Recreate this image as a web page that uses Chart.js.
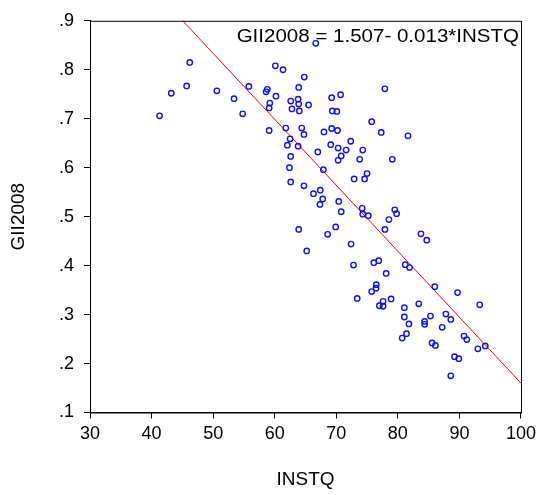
<!DOCTYPE html>
<html>
<head>
<meta charset="utf-8">
<script src="https://cdn.jsdelivr.net/npm/chart.js@4/dist/chart.umd.min.js"></script>
<style>
  html, body { margin: 0; padding: 0; background: #fff; }
  #wrap { width: 541px; height: 495px; }
</style>
</head>
<body>
<div id="wrap"><canvas id="scatter" width="541" height="495"></canvas></div>
<script>
// INSTQ (x) and GII2008 (y)
const instq = [
  46.2, 45.7, 43.2, 50.6, 41.3,
  66.66, 60.1, 61.35, 64.8, 55.8, 58.6, 58.8, 63.9, 70.7, 69.25,
  53.4, 60.2, 59.2, 59.1, 62.6, 63.8, 63.9, 65.5, 62.8, 64.0,
  69.35, 70.1, 54.8, 75.75, 59.1, 61.8, 64.4, 69.25, 70.2, 62.5,
  64.75, 68.0, 62.05, 63.8, 69.1, 72.35, 70.3, 71.6, 74.3, 62.6,
  67.0, 70.8, 70.3, 73.8, 62.4, 67.9, 75.0, 74.6, 72.9, 62.6,
  64.75, 66.3, 67.4, 67.8, 67.35, 70.4, 70.8, 74.2, 74.3, 75.2,
  63.9, 68.6, 69.9, 72.4, 65.2, 72.8, 76.1, 76.5, 76.45, 75.75, 73.4,
  77.9, 77.3, 81.65, 79.1, 79.5, 79.8,
  78.55, 77.9, 83.75, 84.7, 76.9, 81.2, 81.9, 78.1, 86.0, 89.7,
  77.6, 78.9, 77.0, 77.6, 83.4, 93.3, 81.05, 81.05, 81.8, 84.35,
  84.35, 85.3, 87.8, 88.6, 87.2, 80.7, 81.4, 85.55, 86.1, 90.75,
  91.2, 93.0, 94.2, 89.2, 89.9, 88.6
];
const gii2008 = [
  0.815, 0.767, 0.752, 0.757, 0.706,
  0.854, 0.808, 0.800, 0.785, 0.766, 0.755, 0.760, 0.764, 0.749, 0.743,
  0.741, 0.746, 0.732, 0.722, 0.736, 0.740, 0.730, 0.728, 0.720, 0.716,
  0.716, 0.715, 0.710, 0.694, 0.676, 0.681, 0.681, 0.680, 0.676, 0.659,
  0.668, 0.673, 0.646, 0.644, 0.647, 0.654, 0.640, 0.636, 0.636, 0.623,
  0.632, 0.624, 0.615, 0.617, 0.600, 0.596, 0.588, 0.577, 0.577, 0.571,
  0.563, 0.547, 0.554, 0.536, 0.525, 0.531, 0.510, 0.517, 0.505, 0.502,
  0.474, 0.464, 0.479, 0.444, 0.430, 0.401, 0.406, 0.361, 0.354, 0.347, 0.333,
  0.761, 0.672, 0.665, 0.617, 0.514, 0.506,
  0.494, 0.474, 0.465, 0.452, 0.410, 0.402, 0.396, 0.384, 0.357, 0.345,
  0.327, 0.332, 0.318, 0.317, 0.322, 0.320, 0.314, 0.295, 0.281, 0.286,
  0.280, 0.297, 0.301, 0.290, 0.274, 0.252, 0.261, 0.242, 0.237, 0.256,
  0.249, 0.230, 0.236, 0.214, 0.210, 0.175
];

// fitted line, as drawn
const intercept = 1.507;
const slope = -0.01347;
const lineX = [30, 100];

const xTicks = [30, 40, 50, 60, 70, 80, 90, 100];
const yTicks = [0.1, 0.2, 0.3, 0.4, 0.5, 0.6, 0.7, 0.8, 0.9];
const equationText = 'GII2008 = 1.507- 0.013*INSTQ';

const fontFamily = '"Liberation Sans", Arial, sans-serif';

const points = instq.map((x, i) => ({ x: x, y: gii2008[i] }));
const fitted = lineX.map(x => ({ x: x, y: intercept + slope * x }));

// box around plot area + the equation text (a bit wide, like the original)
const framePlugin = {
  id: 'frame',
  afterDraw(chart) {
    const { ctx, chartArea } = chart;
    ctx.save();
    ctx.strokeStyle = '#000';
    ctx.lineWidth = 1;
    ctx.strokeRect(chartArea.left + 0.5, chartArea.top + 0.5,
      chartArea.right - chartArea.left, chartArea.bottom - chartArea.top);
    ctx.fillStyle = '#000';
    ctx.font = '18px ' + fontFamily;
    ctx.textAlign = 'right';
    ctx.textBaseline = 'alphabetic';
    ctx.translate(chartArea.right - 2, chartArea.top + 21);
    ctx.scale(1.14, 1);
    ctx.fillText(equationText, 0, 0);
    ctx.restore();
  }
};

new Chart(document.getElementById('scatter'), {
  type: 'scatter',
  plugins: [framePlugin],
  data: {
    datasets: [
      {
        label: 'GII2008',
        data: points,
        pointStyle: 'circle',
        pointRadius: 2.7,
        pointBorderWidth: 1.4,
        borderColor: '#1010ff',
        backgroundColor: 'rgba(0,0,0,0)',
        pointBackgroundColor: 'rgba(0,0,0,0)'
      },
      {
        label: 'fit',
        type: 'line',
        data: fitted,
        borderColor: '#ff0000',
        borderWidth: 1,
        pointRadius: 0,
        fill: false
      }
    ]
  },
  options: {
    responsive: false,
    animation: false,
    layout: { padding: { top: 18, right: 20, left: 0, bottom: 0 } },
    plugins: {
      legend: { display: false },
      tooltip: { enabled: false }
    },
    scales: {
      x: {
        type: 'linear',
        min: 30,
        max: 100,
        afterBuildTicks: axis => { axis.ticks = xTicks.map(v => ({ value: v })); },
        afterFit: axis => { axis.height = 82.5; },
        border: { display: true, color: '#000', width: 1 },
        grid: { drawOnChartArea: false, drawTicks: true, tickLength: 6, color: '#000' },
        ticks: {
          color: '#000',
          padding: 5,
          maxRotation: 0,
          font: { family: fontFamily, size: 18 }
        },
        title: {
          display: true,
          text: 'INSTQ',
          color: '#000',
          padding: { top: 0, bottom: 4 },
          font: { family: fontFamily, size: 19 }
        }
      },
      y: {
        type: 'linear',
        min: 0.1,
        max: 0.9,
        afterBuildTicks: axis => { axis.ticks = yTicks.map(v => ({ value: v })); },
        afterFit: axis => { axis.width = 90; },
        border: { display: true, color: '#000', width: 1 },
        grid: { drawOnChartArea: false, drawTicks: true, tickLength: 6, color: '#000' },
        ticks: {
          color: '#000',
          padding: 10,
          font: { family: fontFamily, size: 18 },
          callback: v => v.toFixed(1).replace(/^0/, '')
        },
        title: {
          display: true,
          text: 'GII2008',
          color: '#000',
          padding: { top: 7, bottom: 0 },
          font: { family: fontFamily, size: 19 }
        }
      }
    }
  }
});
</script>
</body>
</html>
